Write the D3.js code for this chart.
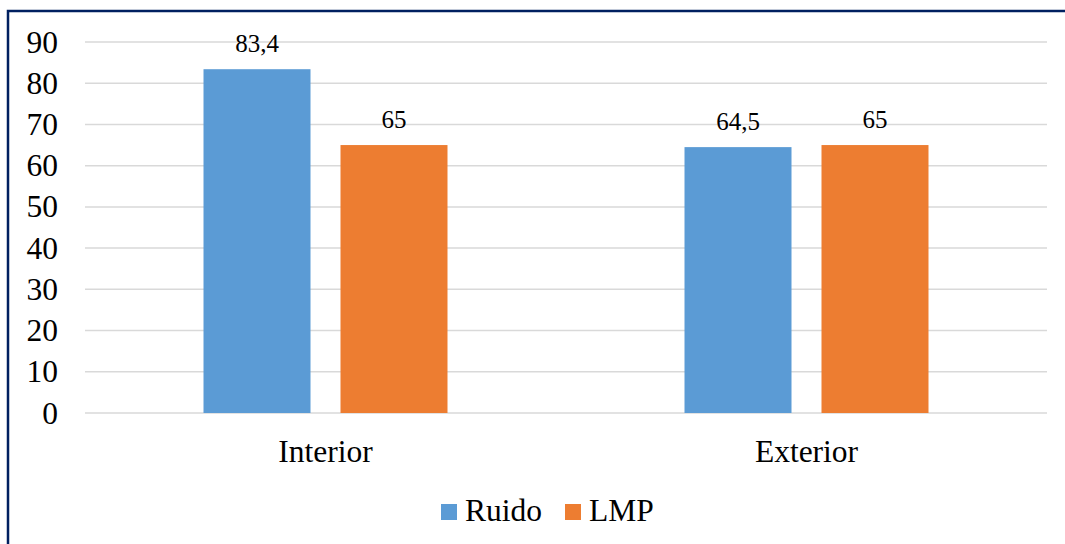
<!DOCTYPE html>
<html>
<head>
<meta charset="utf-8">
<script src="https://cdn.jsdelivr.net/npm/d3@7"></script>
</head>
<body style="margin:0; padding:0; background:#fff;">
<svg id="chart" width="1065" height="544" style="display:block"></svg>
<script>
// Noise levels measured vs. the permissible limit (LMP)
const categories = ["Interior", "Exterior"];
const seriesNames = ["Ruido", "LMP"];
const ruido = [83.4, 64.5];
const lmp = [65, 65];
const yTicks = [0, 10, 20, 30, 40, 50, 60, 70, 80, 90];
const colors = ["#5B9BD5", "#ED7D31"];

const values = [ruido, lmp];
const fmt = v => String(v).replace(".", ",");
const FONT = "'Liberation Serif'";

const svg = d3.select("#chart");

// Frame line along the left and top edges
svg.append("rect")
  .attr("x", 8).attr("y", 11)
  .attr("width", 1100).attr("height", 600)
  .attr("fill", "none")
  .attr("stroke", "#002060")
  .attr("stroke-width", 2.5);

const plot = { left: 85, right: 1047, top: 42, bottom: 413 };

const y = d3.scaleLinear().domain([0, 90]).range([plot.bottom, plot.top]);
const x0 = d3.scaleBand().domain(categories).range([plot.left, plot.right]).padding(0);
const x1 = d3.scaleBand().domain(seriesNames).range([0, x0.bandwidth()])
  .paddingInner(0.219).paddingOuter(0.865);

// Gridlines
svg.append("g")
  .selectAll("line")
  .data(yTicks)
  .join("line")
  .attr("x1", plot.left).attr("x2", plot.right)
  .attr("y1", d => y(d)).attr("y2", d => y(d))
  .attr("stroke", "#d9d9d9")
  .attr("stroke-width", 1.5);

// Y axis labels
const yAxis = d3.axisLeft(y).tickValues(yTicks).tickSize(0).tickPadding(0);
const gy = svg.append("g").attr("transform", "translate(58,0)").call(yAxis);
gy.attr("font-family", null).attr("font-size", null);
gy.select(".domain").remove();
gy.selectAll("text")
  .style("font-family", FONT)
  .style("font-size", "31.5px")
  .attr("fill", "#000");

// Bars
const groups = svg.append("g")
  .selectAll("g")
  .data(seriesNames)
  .join("g")
  .attr("fill", (d, i) => colors[i]);

groups.selectAll("rect")
  .data((s, si) => categories.map((c, ci) => ({ s, c, v: values[si][ci] })))
  .join("rect")
  .attr("x", d => x0(d.c) + x1(d.s))
  .attr("y", d => y(d.v))
  .attr("width", x1.bandwidth())
  .attr("height", d => y(0) - y(d.v));

// Value labels
svg.append("g")
  .selectAll("text")
  .data(seriesNames.flatMap((s, si) => categories.map((c, ci) => ({ s, c, v: values[si][ci] }))))
  .join("text")
  .attr("x", d => x0(d.c) + x1(d.s) + x1.bandwidth() / 2)
  .attr("y", d => y(d.v) - 17)
  .attr("text-anchor", "middle")
  .attr("fill", "#000")
  .style("font-family", FONT)
  .style("font-size", "25px")
  .text(d => fmt(d.v));

// Category labels
svg.append("g")
  .selectAll("text")
  .data(categories)
  .join("text")
  .attr("x", d => x0(d) + x0.bandwidth() / 2)
  .attr("y", 462)
  .attr("text-anchor", "middle")
  .attr("fill", "#000")
  .style("font-family", FONT)
  .style("font-size", "31.5px")
  .text(d => d);

// Legend
const legendItems = [
  { name: seriesNames[0], color: colors[0], x: 441 },
  { name: seriesNames[1], color: colors[1], x: 565 }
];
const lg = svg.append("g").selectAll("g").data(legendItems).join("g")
  .attr("transform", d => `translate(${d.x},0)`);
lg.append("rect")
  .attr("x", 0).attr("y", 504)
  .attr("width", 16).attr("height", 16)
  .attr("fill", d => d.color);
lg.append("text")
  .attr("x", 24).attr("y", 521)
  .attr("fill", "#000")
  .style("font-family", FONT)
  .style("font-size", "31.5px")
  .text(d => d.name);
</script>
</body>
</html>
